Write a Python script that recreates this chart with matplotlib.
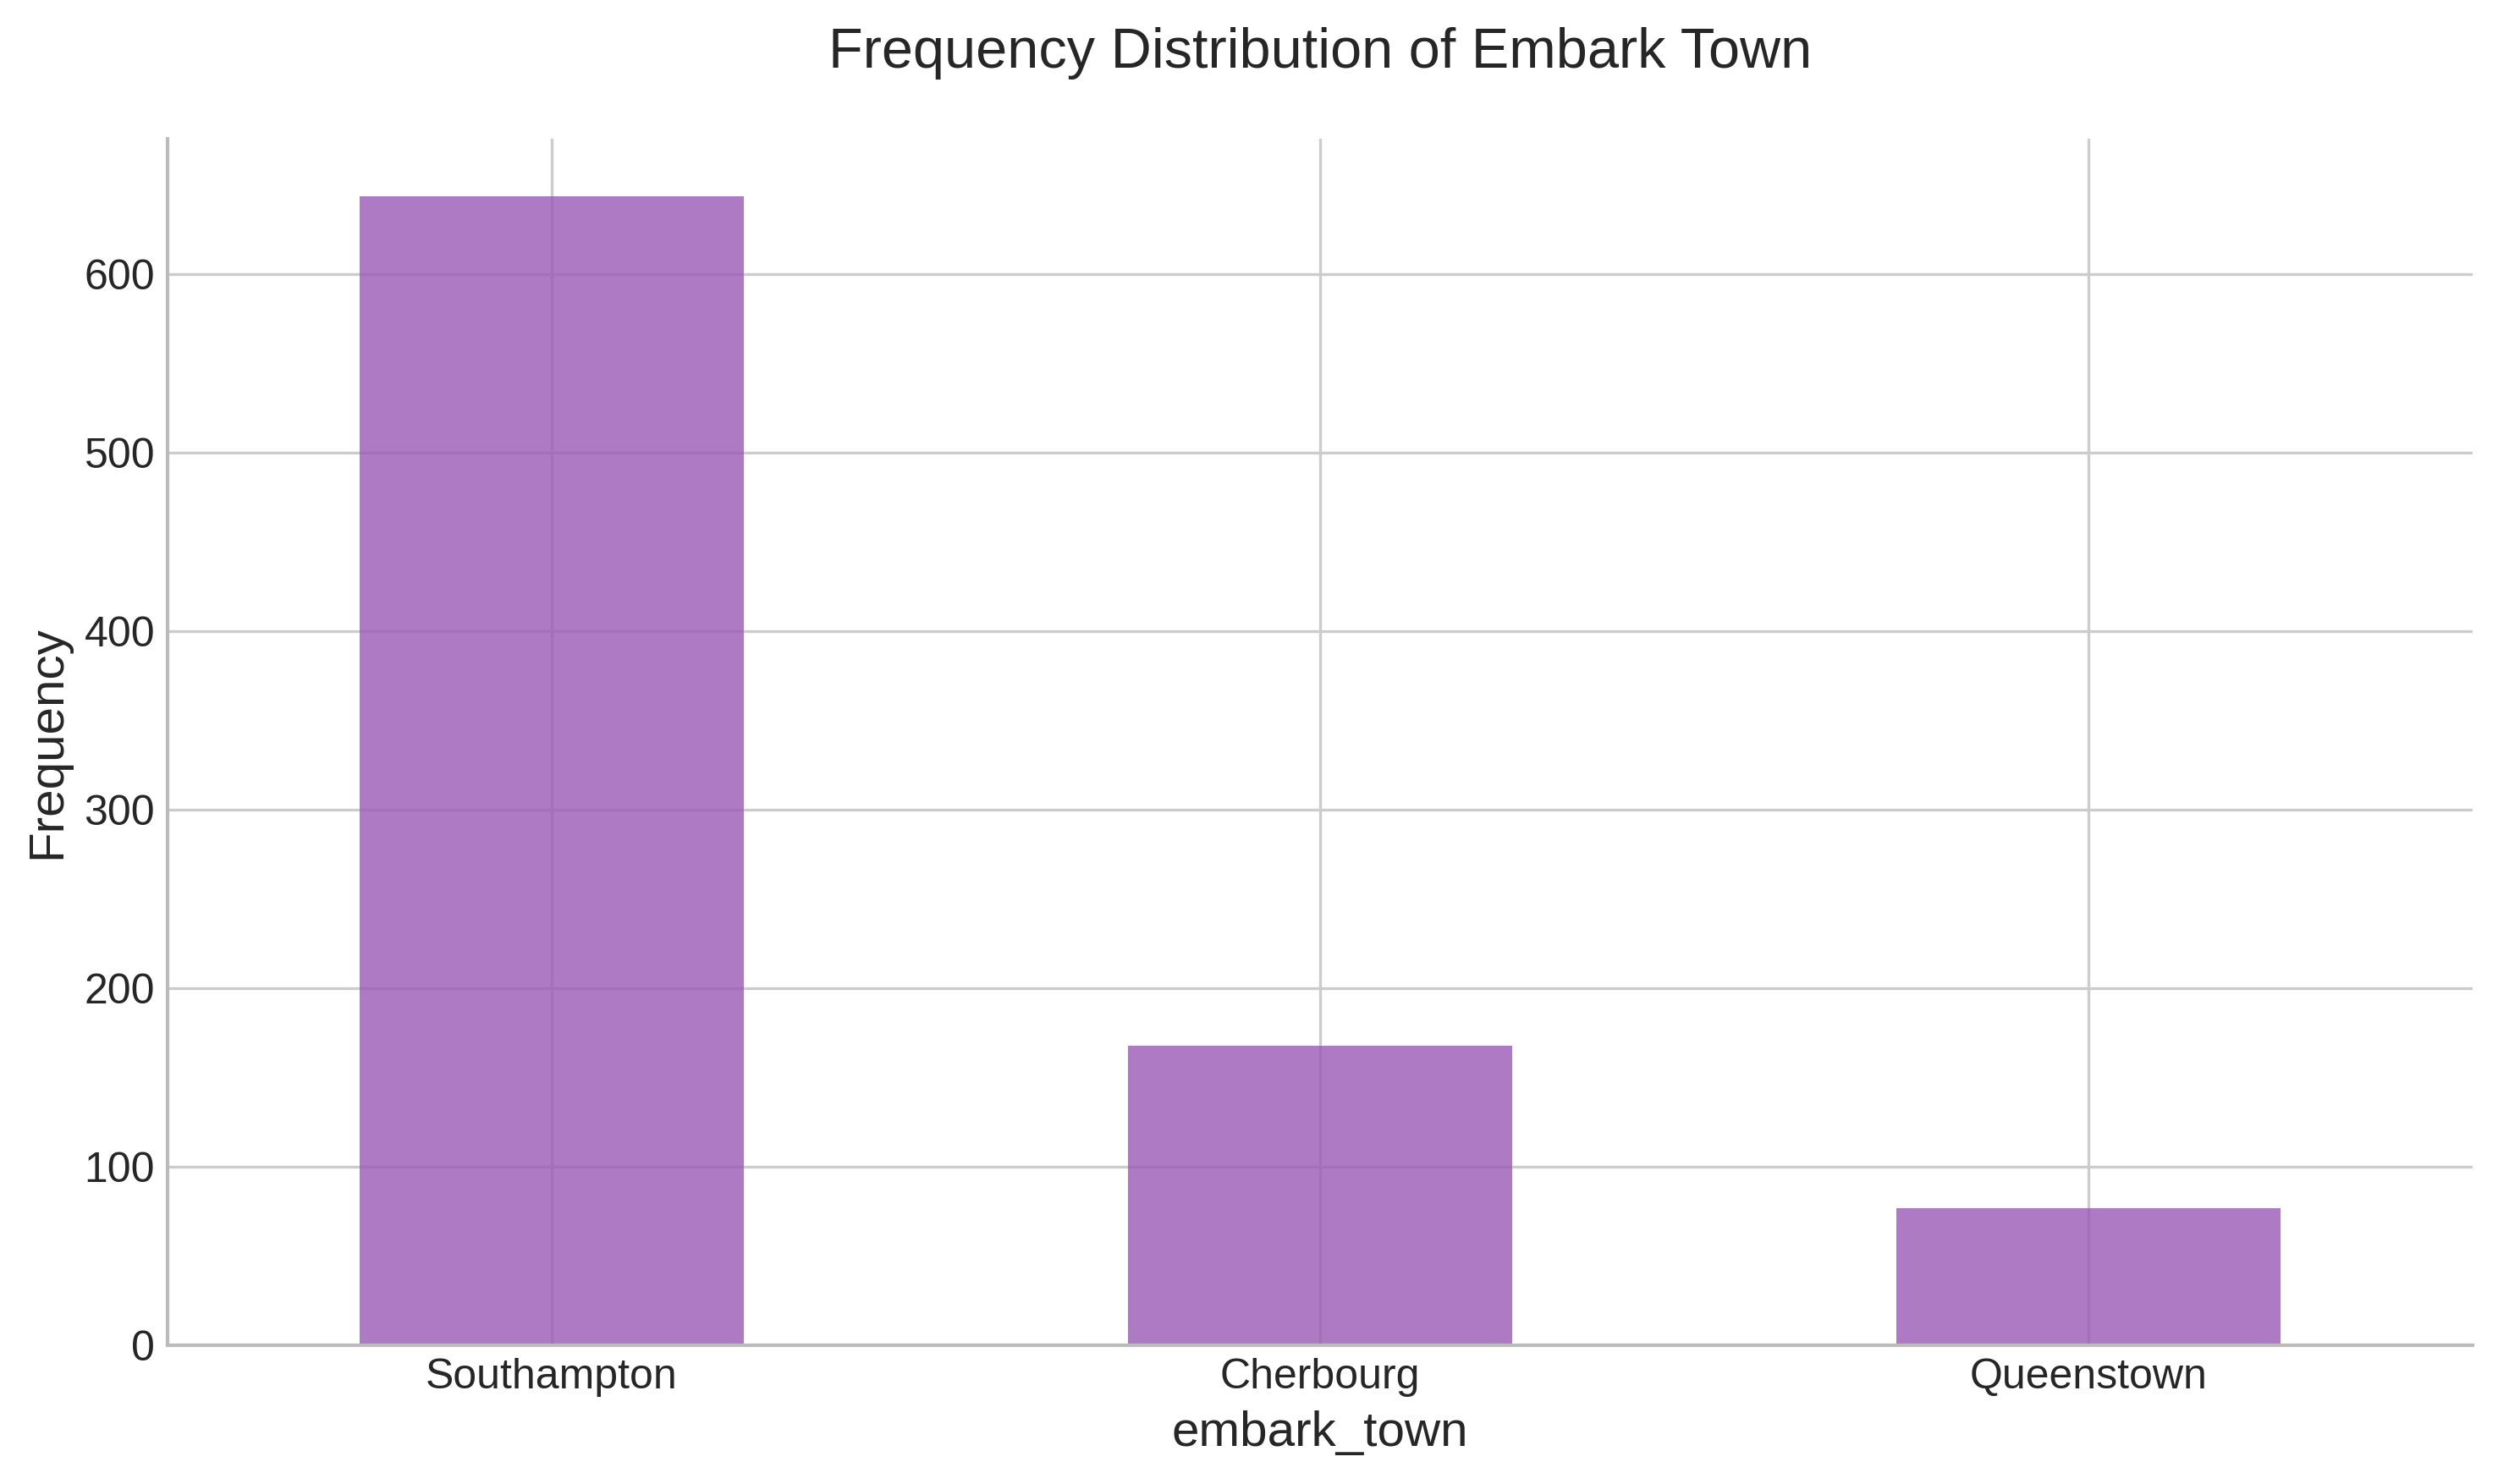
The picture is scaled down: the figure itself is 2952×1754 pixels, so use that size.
import matplotlib
matplotlib.use("Agg")
import matplotlib.pyplot as plt

categories = ["Southampton", "Cherbourg", "Queenstown"]
counts = [644, 168, 77]

plt.style.use("seaborn-v0_8-whitegrid")
plt.rcParams['font.family'] = ['Liberation Sans', 'DejaVu Sans']

fig = plt.figure(figsize=(9.84, 5.8467), dpi=300)
ax = fig.add_axes([0.067, 0.0934, 0.923, 0.8133])
x = list(range(len(categories)))
ax.bar(x, counts, width=0.5, color="#9b59b6", alpha=0.8)
ax.set_xlim(-0.5, len(categories) - 0.5)
ax.set_ylim(0, max(counts) * 1.05)
ax.set_xticks(x)
ax.set_xticklabels(categories, fontsize=12)
ax.tick_params(axis='y', labelsize=12)
ax.set_xlabel("embark_town", fontsize=14)
ax.set_ylabel("Frequency", fontsize=14)
ax.set_title("Frequency Distribution of Embark Town", fontsize=16, pad=20)
ax.grid(True, color="#cccccc", linewidth=0.8)
ax.set_axisbelow(True)
for s in ["top", "right"]:
    ax.spines[s].set_visible(False)
for s in ["left", "bottom"]:
    ax.spines[s].set_visible(True)
    ax.spines[s].set_color("#bbbbbb")
    ax.spines[s].set_linewidth(1.0)
fig.savefig("out.png", dpi=300)
